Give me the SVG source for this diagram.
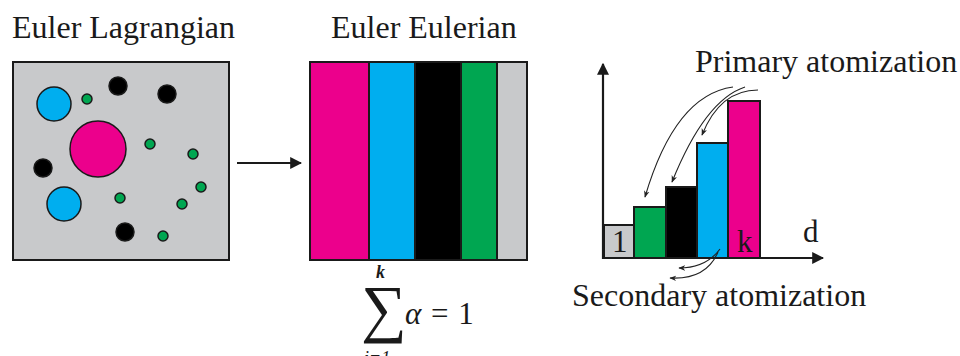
<svg xmlns="http://www.w3.org/2000/svg" width="960" height="356" viewBox="0 0 960 356">
<defs>
<style>
.t{font-family:"Liberation Serif","Times New Roman",serif;fill:#1a1a1a}
.m{font-family:"Cambria Math","Liberation Serif",serif;fill:#1a1a1a}
.ob{stroke:#1a1a1a;stroke-width:2}
.dot{stroke:#1a1a1a;stroke-width:1.5}
.pk{fill:#EC008C}.bl{fill:#00AEEF}.gr{fill:#00A651}.bk{fill:#000}.gy{fill:#C8C9CB}
.cur{fill:none;stroke:#222;stroke-width:1.1}
.ax{stroke:#1a1a1a;stroke-width:2.2;fill:none}
</style>
<marker id="sm" viewBox="0 0 10 10" refX="9" refY="5" markerWidth="7" markerHeight="7" markerUnits="userSpaceOnUse" orient="auto">
<path d="M0,1 L10,5 L0,9 L3,5 Z" fill="#222"/>
</marker>
<marker id="big" viewBox="0 0 10 10" refX="9" refY="5" markerWidth="12" markerHeight="12" markerUnits="userSpaceOnUse" orient="auto">
<path d="M0,0 L10,5 L0,10 Z" fill="#1a1a1a"/>
</marker>
</defs>

<g id="title-lagrangian"><text class="t" x="12" y="38" font-size="32">Euler Lagrangian</text></g>
<g id="title-eulerian"><text class="t" x="331" y="38" font-size="32">Euler Eulerian</text></g>

<g id="lagrangian-box">
<rect x="13" y="62" width="216" height="198" fill="#C8C9CB" class="ob"/>
<circle cx="54" cy="104" r="17" class="bl dot"/>
<circle cx="87" cy="99" r="5" class="gr dot"/>
<circle cx="118" cy="86" r="9" class="bk dot"/>
<circle cx="167" cy="94" r="9" class="bk dot"/>
<circle cx="98" cy="149" r="28" class="pk dot"/>
<circle cx="150" cy="144" r="5" class="gr dot"/>
<circle cx="193" cy="154" r="5" class="gr dot"/>
<circle cx="43" cy="168" r="9" class="bk dot"/>
<circle cx="201" cy="187" r="5" class="gr dot"/>
<circle cx="64" cy="204" r="17" class="bl dot"/>
<circle cx="120" cy="198" r="5" class="gr dot"/>
<circle cx="182" cy="204" r="5" class="gr dot"/>
<circle cx="125" cy="232" r="9" class="bk dot"/>
<circle cx="163" cy="236" r="5" class="gr dot"/>
</g>

<g id="eulerian-box">
<rect x="310" y="62" width="59" height="198" class="pk ob"/>
<rect x="369" y="62" width="46" height="198" class="bl ob"/>
<rect x="415" y="62" width="46" height="198" class="bk ob"/>
<rect x="461" y="62" width="36" height="198" class="gr ob"/>
<rect x="497" y="62" width="30" height="198" class="gy ob"/>
</g>

<g id="sum-formula">
<text class="m" x="361" y="330" font-size="64">∑</text>
<text class="m" x="376" y="278" font-size="18" font-style="italic" font-weight="bold">k</text>
<text class="m" x="364" y="364" font-size="18" font-style="italic">i=1</text>
<text class="m" x="405" y="324" font-size="31" word-spacing="2"><tspan font-style="italic">α</tspan> = 1</text>
</g>

<g id="histogram">
<rect x="604" y="225" width="30" height="33" class="gy ob"/>
<rect x="634" y="207" width="32" height="51" class="gr ob"/>
<rect x="666" y="187" width="31" height="71" class="bk ob"/>
<rect x="697" y="143" width="31" height="115" class="bl ob"/>
<rect x="728" y="101" width="32" height="157" class="pk ob"/>
<text class="t" x="612" y="252" font-size="31">1</text>
<text class="t" x="737" y="252" font-size="31">k</text>
<text class="t" x="803" y="242" font-size="31">d</text>
</g>

<g id="labels">
<text class="t" x="695" y="72" font-size="32">Primary atomization</text>
<text class="t" x="572" y="306" font-size="32">Secondary atomization</text>
</g>

<g id="connectors">
<line x1="237" y1="163" x2="301" y2="163" class="ax" marker-end="url(#big)"/>
<line x1="603" y1="259" x2="603" y2="64" class="ax" marker-end="url(#big)"/>
<line x1="602" y1="258" x2="823" y2="258" class="ax" marker-end="url(#big)"/>
<path d="M733,87 Q675,95 645,197" class="cur" marker-end="url(#sm)"/>
<path d="M745,87 Q705,100 672,182" class="cur" marker-end="url(#sm)"/>
<path d="M758,90 Q720,90 702,135" class="cur" marker-end="url(#sm)"/>
<path d="M720,249 Q706,268 679,268" class="cur" marker-end="url(#sm)"/>
<path d="M718,252 Q706,280 670,278" class="cur" marker-end="url(#sm)"/>
</g>
</svg>
